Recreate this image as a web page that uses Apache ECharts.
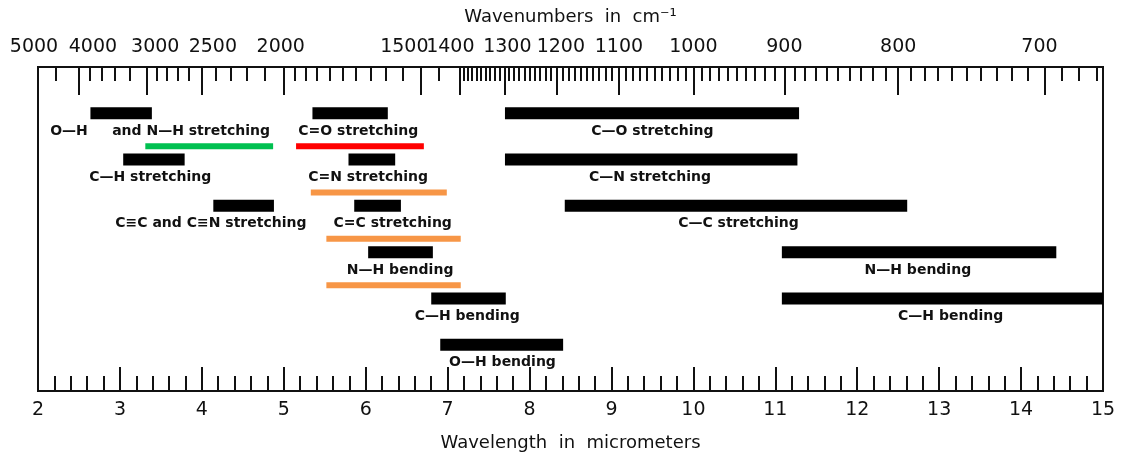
<!DOCTYPE html>
<html>
<head>
<meta charset="utf-8">
<script src="https://cdn.jsdelivr.net/npm/echarts@6/dist/echarts.min.js"></script>
<style>
  html, body { margin: 0; background: #fff; }
  #chart { width: 1132px; height: 460px; }
</style>
</head>
<body>
<div id="chart"></div>
<script>
// absorption bands, in micrometers
var bandNames = ['O—H     and N—H stretching', 'C=O stretching', 'C—O stretching',
  'C—H stretching', 'C=N stretching', 'C—N stretching',
  'C≡C and C≡N stretching', 'C=C stretching', 'C—C stretching',
  'N—H bending', 'N—H bending', 'C—H bending', 'C—H bending', 'O—H bending'];
var bandRow = [1, 1, 1, 2, 2, 2, 3, 3, 3, 4, 4, 5, 5, 6];
var bandFrom = [2.64, 5.35, 7.70, 3.04, 5.79, 7.70, 4.14, 5.86, 8.43, 6.03, 11.08, 6.80, 11.08, 6.91];
var bandTo = [3.39, 6.27, 11.29, 3.79, 6.36, 11.27, 4.88, 6.43, 12.61, 6.82, 14.43, 7.71, 15.0, 8.41];
var labelAt = [3.49, 5.91, 9.50, 3.37, 6.03, 9.47, 4.11, 6.33, 10.55, 6.42, 12.74, 7.24, 13.14, 7.67];

// coloured lines under some of the labels
var markRow = [1, 1, 2, 3, 4];
var markFrom = [3.31, 5.15, 5.33, 5.52, 5.52];
var markTo = [4.87, 6.71, 6.99, 7.16, 7.16];
var markColor = ['#00c050', '#ff0000', '#f79646', '#f79646', '#f79646'];

// top scale, cm-1
var wavenumbers = [5000, 4000, 3000, 2500, 2000, 1500, 1400, 1300, 1200, 1100, 1000, 900, 800, 700];

function range(a, b, step) {
  var out = [];
  for (var v = a; step > 0 ? v <= b : v >= b; v += step) out.push(v);
  return out;
}
var minorWavenumbers = [4500]
  .concat(range(3800, 3200, -200))
  .concat(range(2900, 2100, -100).filter(function (w) { return w !== 2500; }))
  .concat(range(1950, 1550, -50))
  .concat([1450])
  .concat(range(1390, 670, -10).filter(function (w) { return w % 100 !== 0; }));

function toMicron(w) { return 10000 / w; }

// small shifts of the printed top labels (px)
var nudge = { 5000: -4, 4000: 14, 3000: 8, 2500: 11, 2000: -3, 1500: -16, 1400: -9, 1300: 3, 1200: 4, 700: -5 };
var rich = {};
wavenumbers.forEach(function (w) {
  var s = nudge[w] || 0;
  rich['n' + w] = {
    fontSize: 19, fontFamily: 'DejaVu Sans', color: '#111',
    padding: s >= 0 ? [0, 0, 0, 2 * s] : [0, -2 * s, 0, 0]
  };
});

var bandData = bandNames.map(function (n, i) {
  return [bandFrom[i], bandTo[i], bandRow[i], labelAt[i]];
});
var markData = markRow.map(function (r, i) {
  return [markFrom[i], markTo[i], r];
});

var chart = echarts.init(document.getElementById('chart'));

var box = { left: 38, right: 29, top: 67, bottom: 69, outerBoundsMode: 'none' };
var tickStyle = { color: '#111', width: 2 };

var option = {
  animation: false,
  grid: [
    Object.assign({ show: true, borderColor: '#111', borderWidth: 2 }, box),
    // same box again, only carries the short top ticks
    Object.assign({}, box)
  ],
  xAxis: [
    {
      type: 'value', position: 'bottom', min: 2, max: 15, interval: 1,
      name: 'Wavelength  in  micrometers', nameLocation: 'middle', nameGap: 43,
      nameTextStyle: { fontSize: 18, fontFamily: 'DejaVu Sans', color: '#111' },
      axisLine: { onZero: false, lineStyle: tickStyle },
      axisTick: { inside: true, length: 24, lineStyle: tickStyle },
      minorTick: { show: true, splitNumber: 5, length: 15, lineStyle: tickStyle },
      axisLabel: { fontSize: 19, fontFamily: 'DejaVu Sans', color: '#111', margin: 10 },
      splitLine: { show: false }
    },
    {
      type: 'value', position: 'top', min: 2, max: 15,
      name: 'Wavenumbers  in  cm⁻¹', nameLocation: 'middle', nameGap: 41,
      nameTextStyle: { fontSize: 18, fontFamily: 'DejaVu Sans', color: '#111' },
      axisLine: { onZero: false, lineStyle: tickStyle },
      axisTick: { inside: true, length: 28, customValues: wavenumbers.map(toMicron), lineStyle: tickStyle },
      axisLabel: {
        customValues: wavenumbers.map(toMicron), margin: 10,
        formatter: function (v) {
          var w = Math.round(10000 / v);
          return '{n' + w + '|' + w + '}';
        },
        rich: rich
      },
      splitLine: { show: false }
    },
    {
      gridIndex: 1,
      type: 'value', position: 'top', min: 2, max: 15,
      axisLine: { onZero: false, show: false },
      axisTick: { inside: true, length: 14, customValues: minorWavenumbers.map(toMicron), lineStyle: tickStyle },
      axisLabel: { show: false },
      splitLine: { show: false }
    }
  ],
  yAxis: [
    {
      type: 'value', min: 0, max: 7, inverse: true,
      axisLine: { show: false }, axisTick: { show: false },
      axisLabel: { show: false }, splitLine: { show: false }
    },
    {
      gridIndex: 1,
      type: 'value', min: 0, max: 1, show: false
    }
  ],
  series: [
    {
      type: 'custom',
      xAxisIndex: 0,
      data: markData,
      encode: { x: [0, 1], y: 2 },
      renderItem: function (params, api) {
        var a = api.coord([api.value(0), api.value(2)]);
        var b = api.coord([api.value(1), api.value(2)]);
        return {
          type: 'rect',
          shape: { x: a[0], y: a[1] + 30, width: b[0] - a[0], height: 6 },
          style: { fill: markColor[params.dataIndex] }
        };
      }
    },
    {
      type: 'custom',
      xAxisIndex: 0,
      data: bandData,
      encode: { x: [0, 1], y: 2 },
      renderItem: function (params, api) {
        var a = api.coord([api.value(0), api.value(2)]);
        var b = api.coord([api.value(1), api.value(2)]);
        var m = api.coord([api.value(3), api.value(2)]);
        return {
          type: 'group',
          children: [
            {
              type: 'rect',
              shape: { x: a[0], y: a[1] - 6, width: b[0] - a[0], height: 12 },
              style: { fill: '#000' }
            },
            {
              type: 'text',
              x: m[0], y: a[1] + 18,
              style: {
                text: bandNames[params.dataIndex],
                fill: '#111', fontSize: 14, fontWeight: 'bold', fontFamily: 'DejaVu Sans',
                align: 'center', verticalAlign: 'middle'
              }
            }
          ]
        };
      }
    }
  ]
};

chart.setOption(option);
window.addEventListener('resize', function () {
  chart.resize();
});
</script>
</body>
</html>
